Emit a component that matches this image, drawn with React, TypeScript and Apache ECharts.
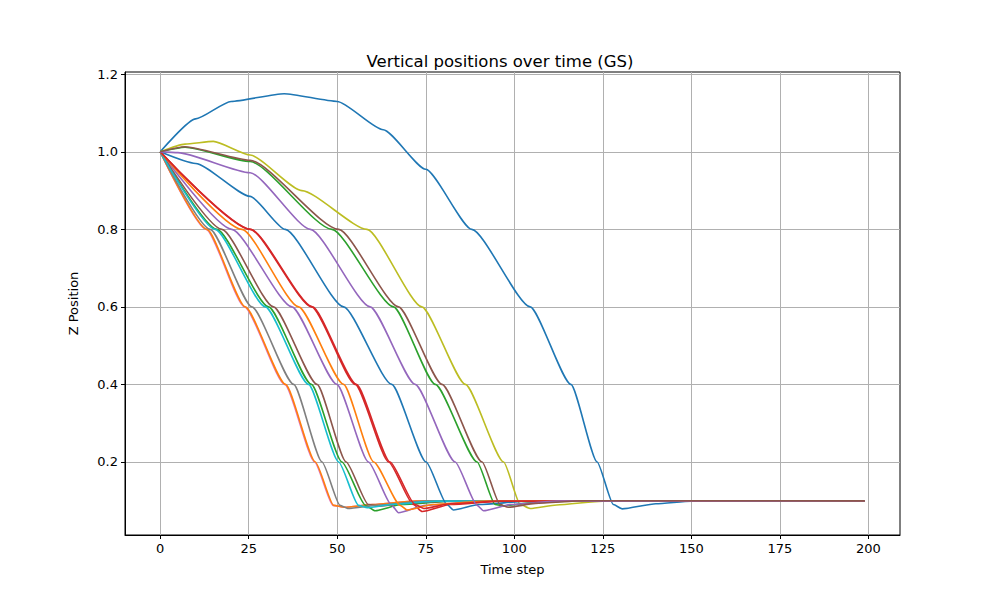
import React, { useEffect, useRef } from 'react';
import * as echarts from 'echarts';

// [time step, z] key points, one array per run
const run01: number[][] = [[0, 1], [10, 1.085], [20, 1.13], [35, 1.15], [50, 1.13], [63, 1.057], [75, 0.955], [88, 0.8], [104.5, 0.6], [116, 0.4], [123.4, 0.2], [128, 0.09], [130.5, 0.079], [140, 0.092], [150, 0.099], [199, 0.1]];
const run02: number[][] = [[0, 1], [13.2, 0.8], [24, 0.6], [35.4, 0.4], [43.8, 0.2], [49, 0.088], [52, 0.083], [60, 0.09], [72, 0.099], [199, 0.1]];
const run03: number[][] = [[0, 1], [16, 0.8], [30.6, 0.6], [42.7, 0.4], [51.3, 0.2], [58, 0.088], [60.7, 0.074], [68, 0.09], [82, 0.099], [199, 0.1]];
const run04: number[][] = [[0, 1], [25.4, 0.8], [42.8, 0.6], [55.1, 0.4], [64.5, 0.2], [71.5, 0.09], [74, 0.072], [82, 0.09], [96, 0.099], [199, 0.1]];
const run05: number[][] = [[0, 1], [20.2, 0.8], [37.2, 0.6], [49.9, 0.4], [58.8, 0.2], [65.4, 0.088], [67.3, 0.069], [75, 0.088], [90, 0.099], [199, 0.1]];
const run06: number[][] = [[0, 1], [17.4, 0.8], [32, 0.6], [44.3, 0.4], [52.5, 0.2], [58.8, 0.09], [62, 0.086], [70, 0.094], [82, 0.099], [199, 0.1]];
const run07: number[][] = [[0, 1], [13, 0.8], [23.8, 0.6], [35.2, 0.4], [43.6, 0.2], [48.8, 0.088], [52, 0.083], [60, 0.09], [72, 0.099], [199, 0.1]];
const run08: number[][] = [[0, 1], [14.1, 0.8], [25.9, 0.6], [37.7, 0.4], [45.7, 0.2], [50.8, 0.088], [53, 0.08], [62, 0.089], [75, 0.099], [199, 0.1]];
const run09: number[][] = [[0, 1], [7, 1.02], [15, 1.027], [25.4, 0.992], [40, 0.9], [58.4, 0.8], [73.9, 0.6], [86.2, 0.4], [97, 0.2], [101.7, 0.09], [104.5, 0.08], [112, 0.089], [125, 0.099], [199, 0.1]];
const run10: number[][] = [[0, 1], [15.5, 0.8], [29.7, 0.6], [41.9, 0.4], [50.4, 0.2], [56, 0.088], [58.5, 0.082], [66, 0.091], [78, 0.099], [199, 0.1]];
const run11: number[][] = [[0, 1], [10, 0.97], [25.4, 0.885], [35.3, 0.8], [51.8, 0.6], [65.4, 0.4], [75.1, 0.2], [81, 0.09], [82.8, 0.076], [90, 0.09], [104, 0.099], [199, 0.1]];
const run12: number[][] = [[0, 1], [23.1, 0.8], [39.1, 0.6], [51.8, 0.4], [60.3, 0.2], [67.8, 0.088], [69.7, 0.076], [77, 0.09], [92, 0.099], [199, 0.1]];
const run13: number[][] = [[0, 1], [7, 1.012], [25.4, 0.975], [48.5, 0.8], [65.9, 0.6], [77.7, 0.4], [89.5, 0.2], [94.6, 0.09], [97, 0.087], [105, 0.095], [118, 0.1], [199, 0.1]];
const run14: number[][] = [[0, 1], [25.6, 0.8], [43, 0.6], [55.4, 0.4], [64.9, 0.2], [72, 0.09], [74.5, 0.08], [82, 0.092], [96, 0.099], [199, 0.1]];
const run15: number[][] = [[0, 1], [5, 0.998], [25.4, 0.946], [42.4, 0.8], [59.3, 0.6], [72, 0.4], [83.3, 0.2], [89.5, 0.088], [91.3, 0.074], [99, 0.09], [112, 0.099], [199, 0.1]];
const run16: number[][] = [[0, 1], [7, 1.013], [25.4, 0.978], [50.4, 0.8], [67.3, 0.6], [79.6, 0.4], [90.9, 0.2], [96, 0.09], [98.3, 0.083], [106, 0.093], [120, 0.1], [199, 0.1]];

const runs = [run01, run02, run03, run04, run05, run06, run07, run08, run09, run10, run11, run12, run13, run14, run15, run16];
const colors = ['#1f77b4', '#ff7f0e', '#2ca02c', '#d62728', '#9467bd', '#8c564b', '#e377c2', '#7f7f7f', '#bcbd22', '#17becf'];
const xTicks = [0, 25, 50, 75, 100, 125, 150, 175, 200];
const yTicks = [0.2, 0.4, 0.6, 0.8, 1.0, 1.2];

export default function App() {
  const chartRef = useRef<HTMLDivElement>(null);

  useEffect(() => {
    if (!chartRef.current) return;
    document.body.style.margin = '0';
    const chart = echarts.init(chartRef.current, null, { renderer: 'svg' });
    const font = 'DejaVu Sans';

    chart.setOption({
      animation: false,
      backgroundColor: '#ffffff',
      title: {
        text: 'Vertical positions over time (GS)',
        left: 'center',
        top: 48,
        textStyle: { fontFamily: font, fontSize: 16.5, fontWeight: 'normal', color: '#000' }
      },
      grid: { left: 125, right: 100, top: 72, bottom: 65, show: true, borderColor: '#000', borderWidth: 1 },
      xAxis: {
        type: 'value',
        min: -9.95,
        max: 208.95,
        name: 'Time step',
        nameLocation: 'middle',
        nameGap: 28,
        nameTextStyle: { fontFamily: font, fontSize: 13, color: '#000' },
        axisLine: { onZero: false, lineStyle: { color: '#000' } },
        axisTick: { customValues: xTicks, length: 4, lineStyle: { color: '#000' } },
        axisLabel: { customValues: xTicks, fontFamily: font, fontSize: 13, color: '#000', margin: 7 },
        splitLine: { show: true, lineStyle: { color: '#b0b0b0', width: 1 } }
      },
      yAxis: {
        type: 'value',
        min: 0.0115,
        max: 1.206,
        name: 'Z Position',
        nameLocation: 'middle',
        nameGap: 45,
        nameTextStyle: { fontFamily: font, fontSize: 13, color: '#000' },
        axisLine: { show: true, onZero: false, lineStyle: { color: '#000' } },
        axisTick: { show: true, customValues: yTicks, length: 4, lineStyle: { color: '#000' } },
        axisLabel: {
          customValues: yTicks,
          fontFamily: font,
          fontSize: 13,
          color: '#000',
          margin: 7,
          formatter: (v: number) => v.toFixed(1)
        },
        splitLine: { show: true, lineStyle: { color: '#b0b0b0', width: 1 } }
      },
      series: runs.map((d, i) => ({
        type: 'line',
        data: d,
        smooth: 0.2,
        smoothMonotone: 'x',
        showSymbol: false,
        z: i === 6 ? 1 : 2,
        lineStyle: { width: 1.6, color: colors[i % colors.length] },
        itemStyle: { color: colors[i % colors.length] }
      }))
    });

    return () => chart.dispose();
  }, []);

  return <div ref={chartRef} style={{ width: 1000, height: 600 }} />;
}
